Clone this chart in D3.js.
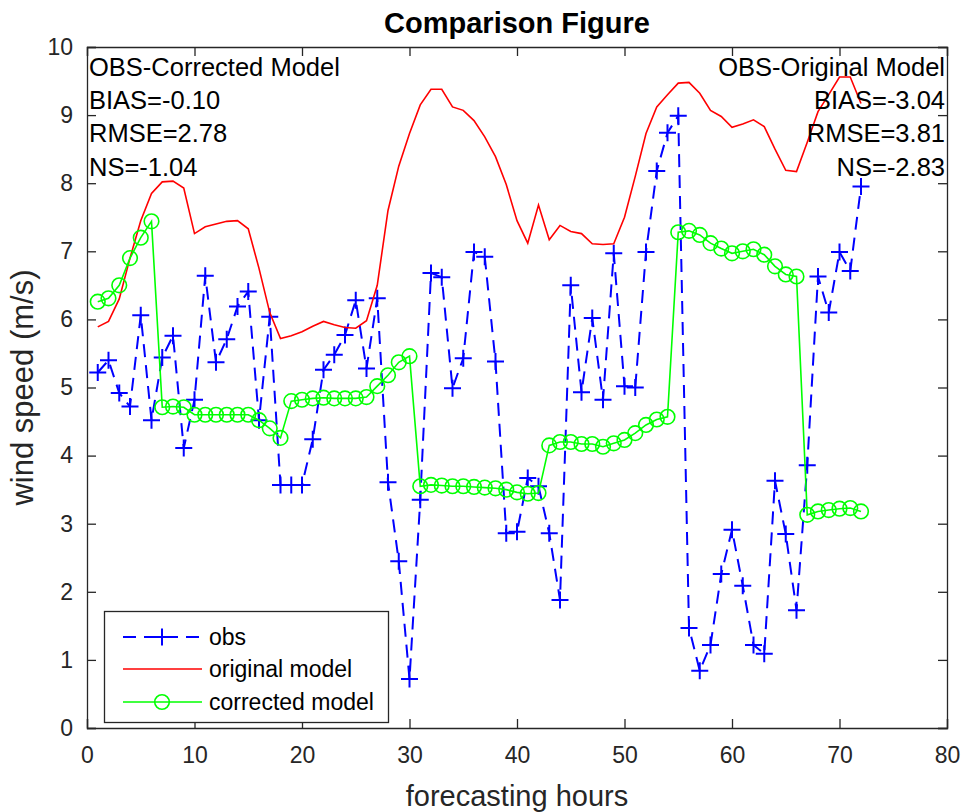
<!DOCTYPE html>
<html><head><meta charset="utf-8">
<script src="https://cdn.jsdelivr.net/npm/d3@7"></script>
<style>body{margin:0;background:#fff}svg{display:block}text{font-family:"Liberation Sans",Arial,sans-serif;fill:#262626}</style>
</head><body><div id="chart"></div>
<script>
const hours = d3.range(1, 73);
const obs = [5.22,5.40,4.92,4.72,6.06,4.52,5.44,5.76,4.11,4.82,6.64,5.37,5.71,6.19,6.41,4.52,6.04,3.57,3.57,3.57,
  4.24,5.26,5.48,5.77,6.28,5.28,6.31,3.61,2.45,0.72,3.35,6.68,6.62,4.99,5.43,6.99,6.92,5.38,2.86,2.88,
  3.67,3.55,2.86,1.88,6.50,4.93,6.02,4.82,6.97,5.02,5.00,6.99,8.18,8.74,8.99,1.47,0.84,1.22,2.26,2.91,
  2.09,1.22,1.09,3.63,2.85,1.73,3.86,6.63,6.10,6.99,6.71,7.95];
const original = [5.89,5.97,6.30,6.90,7.45,7.85,8.02,8.03,7.93,7.26,7.36,7.40,7.44,7.45,7.33,6.75,6.10,5.72,5.76,5.82,
  5.90,5.97,5.92,5.88,5.87,5.98,6.50,7.60,8.25,8.73,9.15,9.38,9.38,9.12,9.07,8.92,8.68,8.39,7.98,7.45,
  7.12,7.68,7.17,7.38,7.29,7.26,7.11,7.10,7.11,7.50,8.10,8.73,9.12,9.30,9.47,9.48,9.32,9.07,8.98,8.82,
  8.87,8.93,8.83,8.50,8.19,8.17,8.60,9.05,9.30,9.56,9.56,9.17];
const corrected = [6.26,6.31,6.50,6.90,7.20,7.44,4.71,4.72,4.71,4.60,4.60,4.60,4.60,4.60,4.60,4.52,4.40,4.26,4.80,4.82,
  4.84,4.85,4.84,4.84,4.84,4.86,5.02,5.18,5.37,5.46,3.55,3.57,3.56,3.55,3.55,3.54,3.53,3.52,3.50,3.46,
  3.44,3.45,4.15,4.20,4.20,4.17,4.17,4.13,4.18,4.23,4.33,4.45,4.53,4.57,7.28,7.30,7.24,7.12,7.04,6.97,
  7.00,7.03,6.95,6.78,6.66,6.63,3.13,3.18,3.20,3.22,3.23,3.18];
const xTicks = [0,10,20,30,40,50,60,70,80];
const yTicks = [0,1,2,3,4,5,6,7,8,9,10];
const seriesNames = ["obs","original model","corrected model"];
const leftStats = ["OBS-Corrected Model","BIAS=-0.10","RMSE=2.78","NS=-1.04"];
const rightStats = ["OBS-Original Model","BIAS=-3.04","RMSE=3.81","NS=-2.83"];
const titleText = "Comparison Figure";
const xLabel = "forecasting hours";
const yLabel = "wind speed (m/s)";

(function(){
const W = 965, H = 812;
const m = {l:87, r:947, t:47, b:728};
const svg = d3.select("#chart").append("svg").attr("width", W).attr("height", H);
const x = d3.scaleLinear().domain([0,80]).range([m.l, m.r]);
const y = d3.scaleLinear().domain([0,10]).range([m.b, m.t]);
const axisCol = "#262626", tl = 9;

svg.append("defs").append("clipPath").attr("id","c").append("rect")
  .attr("x", m.l).attr("y", m.t).attr("width", m.r-m.l).attr("height", m.b-m.t);

const ax = svg.append("g");
const gB = ax.append("g").attr("transform",`translate(0,${m.b})`).call(d3.axisBottom(x).tickValues(xTicks).tickSize(-tl).tickPadding(14));
ax.append("g").attr("transform",`translate(0,${m.t})`).call(d3.axisTop(x).tickValues(xTicks).tickSize(-tl).tickFormat(""));
ax.append("g").attr("transform",`translate(${m.l},0)`).call(d3.axisLeft(y).tickValues(yTicks).tickSize(-tl).tickPadding(14));
ax.append("g").attr("transform",`translate(${m.r},0)`).call(d3.axisRight(y).tickValues(yTicks).tickSize(-tl).tickFormat(""));
ax.selectAll(".domain").attr("stroke", axisCol).attr("stroke-width", 1.3);
ax.selectAll(".tick line").attr("stroke", axisCol).attr("stroke-width", 1.3);
ax.selectAll(".tick text").attr("fill", axisCol).style("font-size","23px");
gB.selectAll(".tick text").attr("dy","0.9em");

const plot = svg.append("g").attr("clip-path","url(#c)");
const line = d3.line().x((d,i)=>x(hours[i])).y(d=>y(d));
const plusPath = s => `M${-s},0H${s}M0,${-s}V${s}`;

plot.append("path").datum(obs).attr("d", line).attr("fill","none").attr("stroke","#0000ff")
  .attr("stroke-width",2).attr("stroke-dasharray","13,8");
plot.selectAll(".obsm").data(obs).join("path").attr("class","obsm")
  .attr("transform",(d,i)=>`translate(${x(hours[i])},${y(d)})`).attr("d", plusPath(8.5))
  .attr("stroke","#0000ff").attr("stroke-width",2).attr("fill","none");
plot.append("path").datum(original).attr("d", line).attr("fill","none").attr("stroke","#ff0000").attr("stroke-width",1.6);
plot.append("path").datum(corrected).attr("d", line).attr("fill","none").attr("stroke","#00ff00").attr("stroke-width",1.6);
plot.selectAll(".cm").data(corrected).join("circle").attr("class","cm")
  .attr("cx",(d,i)=>x(hours[i])).attr("cy",d=>y(d)).attr("r",7.3)
  .attr("fill","none").attr("stroke","#00ff00").attr("stroke-width",1.6);

const annY = [76,109,142,176];
svg.append("g").selectAll("text").data(leftStats).join("text")
  .attr("x", 89).attr("y",(d,i)=>annY[i]).style("font-size","25.5px").style("fill","#000").text(d=>d);
svg.append("g").selectAll("text").data(rightStats).join("text")
  .attr("x", 945).attr("y",(d,i)=>annY[i]).attr("text-anchor","end").style("font-size","25.5px").style("fill","#000").text(d=>d);

svg.append("text").attr("x",(m.l+m.r)/2).attr("y",33).attr("text-anchor","middle")
  .style("font-size","29px").style("font-weight","bold").style("fill","#000").text(titleText);
svg.append("text").attr("x",(m.l+m.r)/2).attr("y",806).attr("text-anchor","middle")
  .style("font-size","29px").text(xLabel);
svg.append("text").attr("transform",`translate(33,${(m.t+m.b)/2}) rotate(-90)`).attr("text-anchor","middle")
  .style("font-size","31px").text(yLabel);

const lg = svg.append("g");
lg.append("rect").attr("x",104.5).attr("y",611.5).attr("width",284).attr("height",111)
  .attr("fill","#fff").attr("stroke",axisCol).attr("stroke-width",1.3);
const ly = [637,669,702];
const cols = ["#0000ff","#ff0000","#00ff00"];
seriesNames.forEach((n,i)=>{
  const g = lg.append("g");
  g.append("line").attr("x1",123).attr("x2",202).attr("y1",ly[i]).attr("y2",ly[i])
    .attr("stroke",cols[i]).attr("stroke-width", i===0?2:1.6).attr("stroke-dasharray", i===0?"13,8":null);
  if(i===0) g.append("path").attr("transform",`translate(162,${ly[i]})`).attr("d",plusPath(8.5)).attr("stroke",cols[i]).attr("stroke-width",2);
  if(i===2) g.append("circle").attr("cx",162).attr("cy",ly[i]).attr("r",7.3).attr("fill","none").attr("stroke",cols[i]).attr("stroke-width",1.6);
  g.append("text").attr("x",209).attr("y",ly[i]).attr("dy","0.35em").style("font-size","23px").style("fill","#000").text(n);
});
})();
</script></body></html>
